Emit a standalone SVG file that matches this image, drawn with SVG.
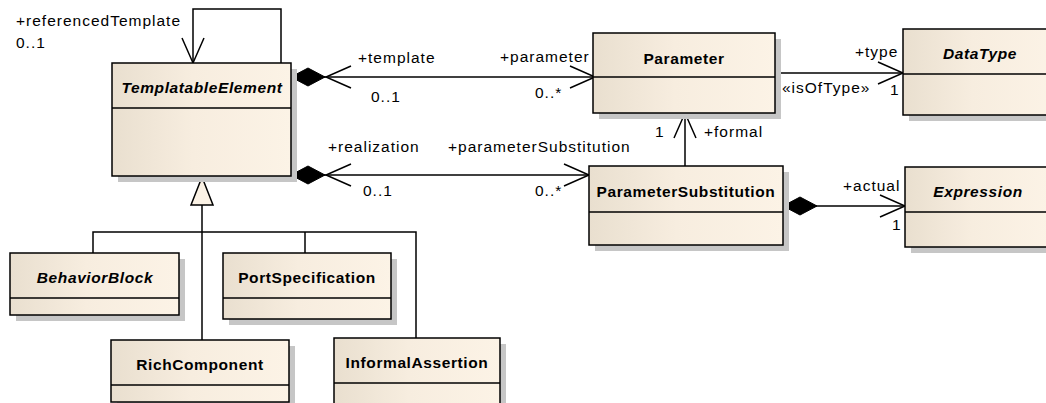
<svg xmlns="http://www.w3.org/2000/svg" width="1046" height="403" viewBox="0 0 1046 403">
  <style>
    .box { fill: url(#classFill); stroke: #000; stroke-width: 1.5; }
    .shadow { fill: #c6c6c6; }
    .div { stroke: #000; stroke-width: 1.5; }
    .name { font-family: "Liberation Sans", Arial, sans-serif; font-size: 15.5px; font-weight: bold; letter-spacing: 0.6px; text-anchor: middle; fill: #000; }
    .abstract { font-style: italic; }
    .lbl { font-family: "Liberation Sans", Arial, sans-serif; font-size: 15.5px; letter-spacing: 1px; fill: #000; }
    .conn { fill: none; stroke: #000; stroke-width: 1.5; }
    .head { fill: none; stroke: #000; stroke-width: 1.5; }
  </style>
  <defs>
    <linearGradient id="classFill" x1="0" y1="0" x2="1" y2="0">
      <stop offset="0" stop-color="#e9dfcf"/>
      <stop offset="0.45" stop-color="#f7eddf"/>
      <stop offset="1" stop-color="#fcf3e6"/>
    </linearGradient>
    <marker id="open" markerUnits="userSpaceOnUse" orient="auto" overflow="visible" markerWidth="30" markerHeight="30" refX="0" refY="0">
      <path d="M-25,-11 L0,0 L-25,11" fill="none" stroke="#000" stroke-width="1.5"/>
    </marker>
    <marker id="diamond" markerUnits="userSpaceOnUse" orient="auto" overflow="visible" markerWidth="40" markerHeight="20" refX="0" refY="0">
      <path d="M0,0 L17,-9 L34,0 L17,9 Z" fill="#000" stroke="#000" stroke-width="1"/>
    </marker>
  </defs>

  <rect width="1046" height="403" fill="#fff"/>

  <!-- associations, compositions and generalizations -->
  <g id="connectors">
    <!-- referencedTemplate self association -->
    <path class="conn" d="M281,63 V9 H193 V63" marker-end="url(#open)"/>
    <!-- template / parameter -->
    <path class="conn" d="M291,77 H595" marker-start="url(#diamond)" marker-end="url(#open)"/>
    <path class="head" d="M351,66 L326,77 L351,88"/>
    <!-- realization / parameterSubstitution -->
    <path class="conn" d="M291,175 H589" marker-start="url(#diamond)" marker-end="url(#open)"/>
    <path class="head" d="M351,164 L326,175 L351,186"/>
    <!-- isOfType -->
    <path class="conn" d="M775,73 H903" marker-end="url(#open)"/>
    <!-- formal -->
    <path class="conn" d="M685,166 V113" marker-end="url(#open)"/>
    <!-- actual -->
    <path class="conn" d="M783,206 H905" marker-start="url(#diamond)" marker-end="url(#open)"/>
    <!-- generalization tree -->
    <path class="conn" d="M202,205 V340"/>
    <path class="conn" d="M93,253 V232 H416 V338"/>
    <path class="conn" d="M305,232 V253"/>
    <path d="M202,177 L191,205 L213,205 Z" fill="#fbf2e5" stroke="#000" stroke-width="1.5"/>
  </g>

  <g id="labels">
    <text class="lbl" x="16" y="26">+referencedTemplate</text>
    <text class="lbl" x="16" y="48">0..1</text>
    <text class="lbl" x="358" y="63">+template</text>
    <text class="lbl" x="371" y="102">0..1</text>
    <text class="lbl" x="500" y="62">+parameter</text>
    <text class="lbl" x="535" y="98">0..*</text>
    <text class="lbl" x="328" y="152">+realization</text>
    <text class="lbl" x="363" y="196">0..1</text>
    <text class="lbl" x="448" y="152">+parameterSubstitution</text>
    <text class="lbl" x="535" y="196">0..*</text>
    <text class="lbl" x="855" y="57">+type</text>
    <text class="lbl" x="782" y="93">«isOfType»</text>
    <text class="lbl" x="890" y="95">1</text>
    <text class="lbl" x="655" y="137">1</text>
    <text class="lbl" x="704" y="137">+formal</text>
    <text class="lbl" x="843" y="191">+actual</text>
    <text class="lbl" x="892" y="230">1</text>
  </g>

  <g id="TemplatableElement">
    <rect class="shadow" x="118" y="69" width="179" height="113"/>
    <rect class="box" x="112" y="63" width="179" height="113"/>
    <line class="div" x1="112" y1="108" x2="291" y2="108"/>
    <text class="name abstract" x="202" y="93">TemplatableElement</text>
  </g>

  <g id="Parameter">
    <rect class="shadow" x="599" y="39" width="182" height="80"/>
    <rect class="box" x="593" y="33" width="182" height="80"/>
    <line class="div" x1="593" y1="77" x2="775" y2="77"/>
    <text class="name" x="684" y="64">Parameter</text>
  </g>

  <g id="DataType">
    <rect class="shadow" x="909" y="35" width="154" height="86"/>
    <rect class="box" x="903" y="29" width="154" height="86"/>
    <line class="div" x1="903" y1="74" x2="1057" y2="74"/>
    <text class="name abstract" x="980" y="59">DataType</text>
  </g>

  <g id="ParameterSubstitution">
    <rect class="shadow" x="595" y="172" width="194" height="79"/>
    <rect class="box" x="589" y="166" width="194" height="79"/>
    <line class="div" x1="589" y1="212" x2="783" y2="212"/>
    <text class="name" x="686" y="197">ParameterSubstitution</text>
  </g>

  <g id="Expression">
    <rect class="shadow" x="911" y="173" width="147" height="80"/>
    <rect class="box" x="905" y="167" width="147" height="80"/>
    <line class="div" x1="905" y1="212" x2="1052" y2="212"/>
    <text class="name abstract" x="978" y="197">Expression</text>
  </g>

  <g id="BehaviorBlock">
    <rect class="shadow" x="16" y="259" width="169" height="62"/>
    <rect class="box" x="10" y="253" width="169" height="62"/>
    <line class="div" x1="10" y1="298" x2="179" y2="298"/>
    <text class="name abstract" x="95" y="283">BehaviorBlock</text>
  </g>

  <g id="PortSpecification">
    <rect class="shadow" x="229" y="259" width="168" height="66"/>
    <rect class="box" x="223" y="253" width="168" height="66"/>
    <line class="div" x1="223" y1="298" x2="391" y2="298"/>
    <text class="name" x="307" y="283">PortSpecification</text>
  </g>

  <g id="RichComponent">
    <rect class="shadow" x="117" y="346" width="178" height="62"/>
    <rect class="box" x="111" y="340" width="178" height="62"/>
    <line class="div" x1="111" y1="385" x2="289" y2="385"/>
    <text class="name" x="200" y="370">RichComponent</text>
  </g>

  <g id="InformalAssertion">
    <rect class="shadow" x="340" y="344" width="166" height="70"/>
    <rect class="box" x="334" y="338" width="166" height="70"/>
    <line class="div" x1="334" y1="383" x2="500" y2="383"/>
    <text class="name" x="417" y="368">InformalAssertion</text>
  </g>
</svg>
